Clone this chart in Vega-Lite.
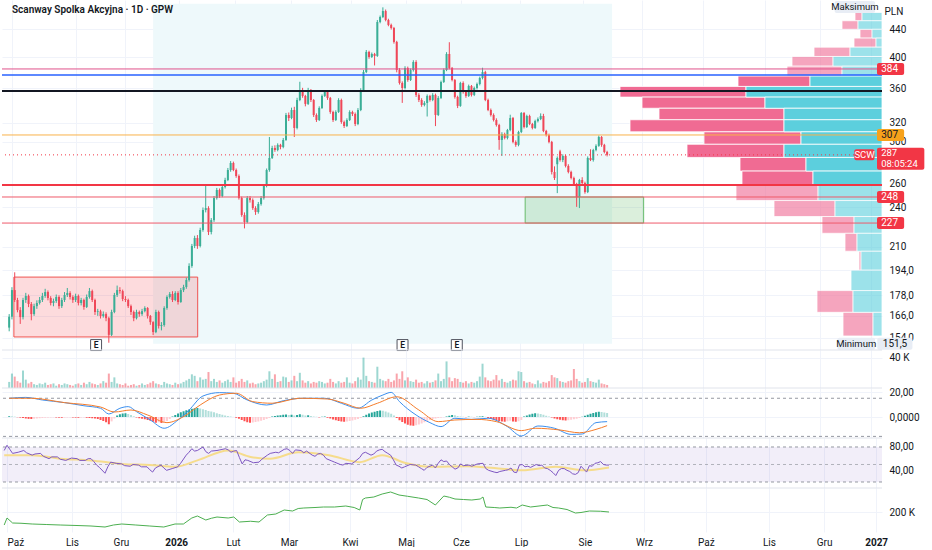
{
  "$schema": "https://vega.github.io/schema/vega-lite/v6.json",
  "background": "white",
  "padding": 0,
  "spacing": 0,
  "bounds": "flush",
  "config": {
    "view": {"stroke": null},
    "font": "Roboto",
    "axis": {"labelFont": "Roboto", "labelFontSize": 10, "labelColor": "#131722", "domain": false, "ticks": false, "gridColor": "#f0f3fa", "labelOverlap": false}
  },
  "datasets": {
    "ohlc": [
      {"i":-1,"o":159.5,"h":167,"l":157.5,"c":165.5,"v":8000,"m":0.6},
      {"i":0,"o":165.5,"h":183,"l":164,"c":181.2,"v":19000,"m":0.5},
      {"i":1,"o":181.2,"h":192.5,"l":174,"c":175.2,"v":15000,"m":0.3},
      {"i":2,"o":175.2,"h":176.5,"l":168,"c":169.3,"v":9000,"m":-0.2},
      {"i":3,"o":169.3,"h":171,"l":161.5,"c":165.3,"v":7000,"m":-0.5},
      {"i":4,"o":165.3,"h":176.5,"l":164,"c":175.2,"v":23000,"m":-0.8},
      {"i":5,"o":175.2,"h":179.5,"l":173.5,"c":177.6,"v":11000,"m":-1.2},
      {"i":6,"o":177.6,"h":178.5,"l":171,"c":172.8,"v":6000,"m":-1.5},
      {"i":7,"o":172.8,"h":174,"l":163.5,"c":167,"v":8000,"m":-1.6},
      {"i":8,"o":167,"h":173,"l":166,"c":171.6,"v":5000,"m":-1.4},
      {"i":9,"o":171.6,"h":175,"l":170,"c":173.4,"v":4000,"m":-1.2},
      {"i":10,"o":173.4,"h":177,"l":172.5,"c":175.2,"v":6000,"m":-1},
      {"i":11,"o":175.2,"h":179.5,"l":174,"c":177.6,"v":5000,"m":-0.8},
      {"i":12,"o":177.6,"h":182,"l":176.5,"c":180,"v":7000,"m":-0.6},
      {"i":13,"o":180,"h":181,"l":175,"c":176.4,"v":4000,"m":-0.5},
      {"i":14,"o":176.4,"h":177.5,"l":172,"c":173.4,"v":5000,"m":-0.4},
      {"i":15,"o":173.4,"h":176,"l":171.5,"c":174.6,"v":6000,"m":-0.3},
      {"i":16,"o":174.6,"h":178.5,"l":173.5,"c":177,"v":3000,"m":-0.4},
      {"i":17,"o":177,"h":178,"l":170,"c":171.6,"v":5000,"m":-0.5},
      {"i":18,"o":171.6,"h":176.5,"l":170.5,"c":175.2,"v":4000,"m":-0.6},
      {"i":19,"o":175.2,"h":180,"l":174,"c":178.2,"v":6000,"m":-0.5},
      {"i":20,"o":178.2,"h":182.5,"l":177,"c":179.4,"v":5000,"m":-0.4},
      {"i":21,"o":179.4,"h":180.5,"l":175.5,"c":177,"v":4000,"m":-0.3},
      {"i":22,"o":177,"h":178,"l":173.5,"c":175.2,"v":3000,"m":-0.4},
      {"i":23,"o":175.2,"h":179,"l":174,"c":177.6,"v":5000,"m":-0.5},
      {"i":24,"o":177.6,"h":178.5,"l":172,"c":173.4,"v":6000,"m":-0.6},
      {"i":25,"o":173.4,"h":176.5,"l":172,"c":175.2,"v":4000,"m":-0.5},
      {"i":26,"o":175.2,"h":176,"l":169.5,"c":171.1,"v":7000,"m":-0.4},
      {"i":27,"o":171.1,"h":178.5,"l":170.5,"c":177,"v":5000,"m":-0.6},
      {"i":28,"o":177,"h":182.5,"l":176,"c":180.6,"v":8000,"m":-0.8},
      {"i":29,"o":180.6,"h":181.5,"l":174,"c":175.2,"v":6000,"m":-1},
      {"i":30,"o":175.2,"h":176,"l":166.5,"c":168.2,"v":5000,"m":-1.2},
      {"i":31,"o":168.2,"h":170,"l":166,"c":168.6,"v":4000,"m":-1.6},
      {"i":32,"o":168.6,"h":169.5,"l":164.5,"c":165.9,"v":6000,"m":-2.4},
      {"i":33,"o":165.9,"h":168.5,"l":165,"c":167,"v":9000,"m":-3.2},
      {"i":34,"o":167,"h":168,"l":163,"c":164.7,"v":7000,"m":-4.2},
      {"i":35,"o":164.7,"h":165.5,"l":151.5,"c":155.6,"v":19000,"m":-5.8},
      {"i":36,"o":155.6,"h":169.5,"l":155,"c":168.2,"v":8000,"m":-3.5},
      {"i":37,"o":168.2,"h":179.5,"l":167.5,"c":178.2,"v":14000,"m":-1.2},
      {"i":38,"o":178.2,"h":184,"l":177,"c":181.2,"v":6000,"m":1.2},
      {"i":39,"o":181.2,"h":183,"l":179,"c":180.6,"v":5000,"m":2.2},
      {"i":40,"o":180.6,"h":181.5,"l":174.5,"c":175.8,"v":4000,"m":2.8},
      {"i":41,"o":175.8,"h":177.5,"l":174,"c":175.2,"v":6000,"m":3},
      {"i":42,"o":175.2,"h":176,"l":170.5,"c":171.6,"v":3000,"m":2.4},
      {"i":43,"o":171.6,"h":172.5,"l":166.5,"c":168.2,"v":4000,"m":1.6},
      {"i":44,"o":168.2,"h":169,"l":163,"c":164.7,"v":5000,"m":0.6},
      {"i":45,"o":164.7,"h":169.5,"l":164,"c":168.2,"v":3000,"m":-0.4},
      {"i":46,"o":168.2,"h":169,"l":165.5,"c":167,"v":4000,"m":-1},
      {"i":47,"o":167,"h":170,"l":166,"c":168.7,"v":6000,"m":-1.4},
      {"i":48,"o":168.7,"h":171.5,"l":168,"c":170.5,"v":4000,"m":-1.8},
      {"i":49,"o":170.5,"h":171,"l":164.5,"c":165.9,"v":5000,"m":-2.4},
      {"i":50,"o":165.9,"h":166.5,"l":161,"c":162.5,"v":7000,"m":-3},
      {"i":51,"o":162.5,"h":163,"l":155.5,"c":157.1,"v":9000,"m":-3.8},
      {"i":52,"o":157.1,"h":169.5,"l":156.5,"c":168.2,"v":6000,"m":-4.6},
      {"i":53,"o":168.2,"h":169,"l":159,"c":160.4,"v":5000,"m":-4.2},
      {"i":54,"o":160.4,"h":162.5,"l":158,"c":160.9,"v":4000,"m":-4.8},
      {"i":55,"o":160.9,"h":171.5,"l":160,"c":170.5,"v":8000,"m":-4.4},
      {"i":56,"o":170.5,"h":178,"l":169.5,"c":177,"v":6000,"m":-3.2},
      {"i":57,"o":177,"h":180,"l":176,"c":178.8,"v":5000,"m":-1.6},
      {"i":58,"o":178.8,"h":180.5,"l":174,"c":175.2,"v":4000,"m":0.4},
      {"i":59,"o":175.2,"h":180.5,"l":174.5,"c":179.4,"v":7000,"m":1.6},
      {"i":60,"o":179.4,"h":180.5,"l":172.5,"c":174,"v":5000,"m":2.8},
      {"i":61,"o":174,"h":182.5,"l":173.5,"c":181.2,"v":6000,"m":3.8},
      {"i":62,"o":181.2,"h":184.5,"l":180,"c":183.1,"v":8000,"m":4.6},
      {"i":63,"o":183.1,"h":189,"l":182,"c":187.5,"v":10000,"m":5.4},
      {"i":64,"o":187.5,"h":198.5,"l":186.5,"c":196.7,"v":12000,"m":6},
      {"i":65,"o":196.7,"h":212,"l":195.5,"c":210.5,"v":18000,"m":6.6},
      {"i":66,"o":210.5,"h":218,"l":209,"c":216.3,"v":16000,"m":7},
      {"i":67,"o":216.3,"h":218.5,"l":208.5,"c":210.5,"v":9000,"m":7.2},
      {"i":68,"o":210.5,"h":224,"l":209.5,"c":222.3,"v":14000,"m":6.8},
      {"i":69,"o":222.3,"h":240,"l":221,"c":237.9,"v":11000,"m":6.2},
      {"i":70,"o":237.9,"h":259,"l":236,"c":239.5,"v":12000,"m":5.6},
      {"i":71,"o":239.5,"h":241,"l":218.5,"c":220.8,"v":21000,"m":4.8},
      {"i":72,"o":220.8,"h":231.5,"l":219,"c":229.9,"v":9000,"m":4.4},
      {"i":73,"o":229.9,"h":249.5,"l":228.5,"c":247.8,"v":12000,"m":3.8},
      {"i":74,"o":247.8,"h":256.5,"l":246.5,"c":254.7,"v":8000,"m":3},
      {"i":75,"o":254.7,"h":256,"l":248,"c":249.5,"v":10000,"m":2.4},
      {"i":76,"o":249.5,"h":259,"l":248.5,"c":257.3,"v":7000,"m":1.8},
      {"i":77,"o":257.3,"h":265.5,"l":256,"c":263.5,"v":9000,"m":1.2},
      {"i":78,"o":263.5,"h":274.5,"l":262.5,"c":272.6,"v":11000,"m":0.8},
      {"i":79,"o":272.6,"h":281,"l":271,"c":279.2,"v":8000,"m":0.4},
      {"i":80,"o":279.2,"h":280.5,"l":271.5,"c":272.6,"v":14000,"m":0.1},
      {"i":81,"o":272.6,"h":274,"l":265.5,"c":267.1,"v":7000,"m":-0.6},
      {"i":82,"o":267.1,"h":268.5,"l":246.5,"c":247.8,"v":9000,"m":-1.4},
      {"i":83,"o":247.8,"h":249,"l":232.5,"c":233.9,"v":12000,"m":-2.4},
      {"i":84,"o":233.9,"h":236,"l":223.5,"c":228.4,"v":8000,"m":-3.4},
      {"i":85,"o":228.4,"h":249.5,"l":227.5,"c":247.8,"v":10000,"m":-4.2},
      {"i":86,"o":247.8,"h":249.5,"l":244,"c":246.1,"v":6000,"m":-4.6},
      {"i":87,"o":246.1,"h":247.5,"l":238,"c":239.5,"v":7000,"m":-4.4},
      {"i":88,"o":239.5,"h":241,"l":234,"c":236.3,"v":5000,"m":-4},
      {"i":89,"o":236.3,"h":244.5,"l":235,"c":242.8,"v":6000,"m":-3.6},
      {"i":90,"o":242.8,"h":249.5,"l":241.5,"c":247.8,"v":7000,"m":-3},
      {"i":91,"o":247.8,"h":259.5,"l":246.5,"c":258.2,"v":9000,"m":-2.4},
      {"i":92,"o":258.2,"h":274,"l":257,"c":272.6,"v":11000,"m":-1.6},
      {"i":93,"o":272.6,"h":305,"l":271,"c":284,"v":22000,"m":-0.8},
      {"i":94,"o":284,"h":296,"l":283,"c":293.8,"v":12000,"m":0.4},
      {"i":95,"o":293.8,"h":296.5,"l":290,"c":291.8,"v":18000,"m":0.8},
      {"i":96,"o":291.8,"h":298.5,"l":290.5,"c":296.9,"v":8000,"m":1.2},
      {"i":97,"o":296.9,"h":298,"l":292.5,"c":294.8,"v":9000,"m":1.4},
      {"i":98,"o":294.8,"h":304,"l":293.5,"c":301.9,"v":15000,"m":1.8},
      {"i":99,"o":301.9,"h":331,"l":301,"c":328.7,"v":14000,"m":2},
      {"i":100,"o":328.7,"h":331.5,"l":322,"c":325.3,"v":8000,"m":1.6},
      {"i":101,"o":325.3,"h":337,"l":324,"c":334.3,"v":10000,"m":1.8},
      {"i":102,"o":334.3,"h":338,"l":305,"c":314.5,"v":16000,"m":1.2},
      {"i":103,"o":314.5,"h":348.5,"l":313,"c":345.9,"v":9000,"m":1.6},
      {"i":104,"o":345.9,"h":368,"l":344.5,"c":357.8,"v":20000,"m":2.2},
      {"i":105,"o":357.8,"h":360.5,"l":348.5,"c":350.7,"v":10000,"m":1.8},
      {"i":106,"o":350.7,"h":352,"l":338.5,"c":341.3,"v":7000,"m":1.2},
      {"i":107,"o":341.3,"h":360.5,"l":340,"c":357.8,"v":9000,"m":1.4},
      {"i":108,"o":357.8,"h":359,"l":343.5,"c":345.9,"v":6000,"m":0.8},
      {"i":109,"o":345.9,"h":347,"l":326.5,"c":328.7,"v":8000,"m":0.4},
      {"i":110,"o":328.7,"h":330.5,"l":321,"c":323.1,"v":7000,"m":0.2},
      {"i":111,"o":323.1,"h":338.5,"l":322,"c":336.6,"v":9000,"m":-0.3},
      {"i":112,"o":336.6,"h":352.5,"l":335.5,"c":350.7,"v":8000,"m":0.2},
      {"i":113,"o":350.7,"h":357.5,"l":349.5,"c":355.4,"v":6000,"m":0.4},
      {"i":114,"o":355.4,"h":357,"l":346,"c":348.3,"v":7000,"m":-0.6},
      {"i":115,"o":348.3,"h":349.5,"l":330,"c":332.1,"v":12000,"m":-1.2},
      {"i":116,"o":332.1,"h":333.5,"l":321,"c":323.1,"v":8000,"m":-2},
      {"i":117,"o":323.1,"h":334,"l":322,"c":332.1,"v":6000,"m":-2.6},
      {"i":118,"o":332.1,"h":348,"l":331,"c":345.9,"v":9000,"m":-3.2},
      {"i":119,"o":345.9,"h":347.5,"l":319,"c":320.9,"v":7000,"m":-3.6},
      {"i":120,"o":320.9,"h":322.5,"l":314.5,"c":316.6,"v":8000,"m":-3.8},
      {"i":121,"o":316.6,"h":325,"l":315.5,"c":323.1,"v":14000,"m":-3.6},
      {"i":122,"o":323.1,"h":334,"l":322,"c":332.1,"v":7000,"m":-3.2},
      {"i":123,"o":332.1,"h":333.5,"l":327.5,"c":329.8,"v":6000,"m":-2.8},
      {"i":124,"o":329.8,"h":331.5,"l":316.5,"c":318.8,"v":9000,"m":-2.2},
      {"i":125,"o":318.8,"h":336.5,"l":317.5,"c":334.3,"v":14000,"m":-1.6},
      {"i":126,"o":334.3,"h":360,"l":333,"c":357.8,"v":11000,"m":-0.8},
      {"i":127,"o":357.8,"h":383,"l":356.5,"c":380.4,"v":40000,"m":0.6},
      {"i":128,"o":380.4,"h":410,"l":379,"c":407.3,"v":16000,"m":1.8},
      {"i":129,"o":407.3,"h":409,"l":398,"c":400.4,"v":9000,"m":2.8},
      {"i":130,"o":400.4,"h":406.5,"l":399,"c":404.5,"v":8000,"m":3.6},
      {"i":131,"o":404.5,"h":406,"l":389,"c":401.8,"v":7000,"m":4.2},
      {"i":132,"o":401.8,"h":454,"l":400.5,"c":451,"v":28000,"m":4.8},
      {"i":133,"o":451,"h":461,"l":449,"c":458.7,"v":12000,"m":5.2},
      {"i":134,"o":458.7,"h":474,"l":457,"c":468.1,"v":10000,"m":5},
      {"i":135,"o":468.1,"h":470.5,"l":452,"c":454,"v":9000,"m":4.4},
      {"i":136,"o":454,"h":456,"l":444.5,"c":446.5,"v":12000,"m":3.6},
      {"i":137,"o":446.5,"h":448.5,"l":439.5,"c":441.9,"v":8000,"m":2.6},
      {"i":138,"o":441.9,"h":443.5,"l":419,"c":421.4,"v":10000,"m":1.2},
      {"i":139,"o":421.4,"h":423,"l":380,"c":383,"v":19000,"m":-0.8},
      {"i":140,"o":383,"h":385.5,"l":364.5,"c":366.5,"v":12000,"m":-2.6},
      {"i":141,"o":366.5,"h":368.5,"l":342.5,"c":360.3,"v":22000,"m":-4},
      {"i":142,"o":360.3,"h":388,"l":358.5,"c":385.7,"v":10000,"m":-5.2},
      {"i":143,"o":385.7,"h":387.5,"l":368,"c":370.2,"v":14000,"m":-6.2},
      {"i":144,"o":370.2,"h":385,"l":369,"c":383,"v":9000,"m":-6.8},
      {"i":145,"o":383,"h":396,"l":381,"c":393.6,"v":8000,"m":-7},
      {"i":146,"o":393.6,"h":396,"l":349.5,"c":351.9,"v":11000,"m":-6.6},
      {"i":147,"o":351.9,"h":354,"l":343.5,"c":345.9,"v":7000,"m":-6},
      {"i":148,"o":345.9,"h":348,"l":338,"c":340.1,"v":8000,"m":-5.2},
      {"i":149,"o":340.1,"h":344.5,"l":338.5,"c":342.4,"v":6000,"m":-4.2},
      {"i":150,"o":342.4,"h":352.5,"l":327,"c":350.7,"v":9000,"m":-3.2},
      {"i":151,"o":350.7,"h":352,"l":344,"c":345.9,"v":7000,"m":-2.4},
      {"i":152,"o":345.9,"h":354,"l":344.5,"c":351.9,"v":8000,"m":-1.6},
      {"i":153,"o":351.9,"h":353.5,"l":316.5,"c":328.7,"v":10000,"m":-1.2},
      {"i":154,"o":328.7,"h":350.5,"l":327.5,"c":348.3,"v":19000,"m":-0.8},
      {"i":155,"o":348.3,"h":369.5,"l":347,"c":367.7,"v":9000,"m":-0.5},
      {"i":156,"o":367.7,"h":385,"l":366.5,"c":383,"v":12000,"m":-0.2},
      {"i":157,"o":383,"h":407,"l":381.5,"c":404.5,"v":35000,"m":0.4},
      {"i":158,"o":404.5,"h":421,"l":384,"c":385.7,"v":14000,"m":1},
      {"i":159,"o":385.7,"h":387,"l":368.5,"c":370.2,"v":9000,"m":1.6},
      {"i":160,"o":370.2,"h":371.5,"l":347.5,"c":349.5,"v":13000,"m":1.4},
      {"i":161,"o":349.5,"h":351,"l":336.5,"c":339,"v":12000,"m":0.8},
      {"i":162,"o":339,"h":368,"l":338,"c":366.5,"v":8000,"m":0.4},
      {"i":163,"o":366.5,"h":368.5,"l":353.5,"c":355.4,"v":7000,"m":0.2},
      {"i":164,"o":355.4,"h":357,"l":348.5,"c":350.7,"v":9000,"m":-0.2},
      {"i":165,"o":350.7,"h":364.5,"l":349.5,"c":362.8,"v":6000,"m":0.3},
      {"i":166,"o":362.8,"h":364,"l":350,"c":351.9,"v":8000,"m":0.2},
      {"i":167,"o":351.9,"h":362,"l":350.5,"c":360.3,"v":7000,"m":-0.1},
      {"i":168,"o":360.3,"h":367,"l":358.5,"c":365.2,"v":9000,"m":0.2},
      {"i":169,"o":365.2,"h":374.5,"l":363.5,"c":372.7,"v":15000,"m":0.4},
      {"i":170,"o":372.7,"h":386,"l":371,"c":380.4,"v":32000,"m":0.6},
      {"i":171,"o":380.4,"h":382,"l":344.5,"c":345.9,"v":14000,"m":0.2},
      {"i":172,"o":345.9,"h":347.5,"l":333,"c":334.3,"v":10000,"m":-0.8},
      {"i":173,"o":334.3,"h":336,"l":327,"c":328.7,"v":9000,"m":-1.6},
      {"i":174,"o":328.7,"h":330.5,"l":321.5,"c":323.1,"v":11000,"m":-2.2},
      {"i":175,"o":323.1,"h":325,"l":316,"c":317.7,"v":17000,"m":-2.8},
      {"i":176,"o":317.7,"h":319,"l":292,"c":301.9,"v":10000,"m":-3.2},
      {"i":177,"o":301.9,"h":310,"l":286,"c":308.1,"v":12000,"m":-3.6},
      {"i":178,"o":308.1,"h":309.5,"l":302.5,"c":304,"v":8000,"m":-3.8},
      {"i":179,"o":304,"h":313.5,"l":302.5,"c":312.3,"v":7000,"m":-3.4},
      {"i":180,"o":312.3,"h":329,"l":311,"c":325.3,"v":9000,"m":-3},
      {"i":181,"o":325.3,"h":326.5,"l":298.5,"c":299.9,"v":11000,"m":-3.6},
      {"i":182,"o":299.9,"h":301.5,"l":295,"c":296.9,"v":10000,"m":-3.8},
      {"i":183,"o":296.9,"h":311.5,"l":295.5,"c":310.2,"v":22000,"m":-3.4},
      {"i":184,"o":310.2,"h":332,"l":309,"c":330.9,"v":21000,"m":-2.4},
      {"i":185,"o":330.9,"h":332,"l":314,"c":315.5,"v":9000,"m":0.4},
      {"i":186,"o":315.5,"h":329,"l":314.5,"c":327.6,"v":7000,"m":1.2},
      {"i":187,"o":327.6,"h":329,"l":317.5,"c":318.8,"v":8000,"m":2},
      {"i":188,"o":318.8,"h":320,"l":313,"c":314.5,"v":6000,"m":2.6},
      {"i":189,"o":314.5,"h":323.5,"l":313.5,"c":322,"v":5000,"m":3},
      {"i":190,"o":322,"h":326,"l":320.5,"c":324.2,"v":10000,"m":2.8},
      {"i":191,"o":324.2,"h":330.5,"l":323,"c":327.6,"v":6000,"m":2.4},
      {"i":192,"o":327.6,"h":330,"l":310,"c":311.3,"v":8000,"m":1.8},
      {"i":193,"o":311.3,"h":312.5,"l":305.5,"c":307.1,"v":7000,"m":1},
      {"i":194,"o":307.1,"h":308.5,"l":298.5,"c":299.9,"v":9000,"m":0.4},
      {"i":195,"o":299.9,"h":301,"l":268.5,"c":270.8,"v":17000,"m":-0.4},
      {"i":196,"o":270.8,"h":276,"l":263.5,"c":265.3,"v":14000,"m":-1.2},
      {"i":197,"o":278,"h":285.5,"l":252,"c":284,"v":13000,"m":-1.8},
      {"i":198,"o":290.5,"h":292,"l":280.5,"c":282,"v":9000,"m":-2.2},
      {"i":199,"o":282,"h":287.5,"l":280,"c":285.9,"v":8000,"m":-2.6},
      {"i":200,"o":285.9,"h":287,"l":275,"c":276.4,"v":7000,"m":-2.8},
      {"i":201,"o":276.4,"h":278,"l":269.5,"c":270.8,"v":9000,"m":-2.6},
      {"i":202,"o":270.8,"h":272,"l":264,"c":265.3,"v":10000,"m":-2.2},
      {"i":203,"o":265.3,"h":266.5,"l":258.5,"c":259.9,"v":25000,"m":-1.8},
      {"i":204,"o":259.9,"h":261,"l":240.5,"c":248.7,"v":12000,"m":-1.4},
      {"i":205,"o":248.7,"h":264.5,"l":239.5,"c":263.5,"v":9000,"m":-0.8},
      {"i":206,"o":263.5,"h":266,"l":259.5,"c":260.8,"v":7000,"m":0.2},
      {"i":207,"o":260.8,"h":262,"l":251.5,"c":252.9,"v":8000,"m":1},
      {"i":208,"o":252.9,"h":285.5,"l":252,"c":284,"v":13000,"m":1.8},
      {"i":209,"o":284,"h":292.5,"l":281,"c":282,"v":9000,"m":2.6},
      {"i":210,"o":282,"h":293,"l":280.5,"c":291.8,"v":8000,"m":3.2},
      {"i":211,"o":291.8,"h":297.5,"l":290.5,"c":295.9,"v":7000,"m":3.8},
      {"i":212,"o":295.9,"h":306.5,"l":295,"c":305,"v":11000,"m":4.2},
      {"i":213,"o":305,"h":306,"l":295,"c":296.9,"v":6000,"m":4},
      {"i":214,"o":296.9,"h":298,"l":288.5,"c":289.8,"v":5000,"m":3.6},
      {"i":215,"o":289.8,"h":291,"l":285.5,"c":287,"v":4000,"m":3.2}
    ],
    "vp": [
      {"lo":452.9,"hi":465.8,"tot":27,"up":20},
      {"lo":439.9,"hi":452.9,"tot":40,"up":24},
      {"lo":427.0,"hi":439.9,"tot":22,"up":10},
      {"lo":414.0,"hi":427.0,"tot":28,"up":6},
      {"lo":401.1,"hi":414.0,"tot":68,"up":32},
      {"lo":388.1,"hi":401.1,"tot":90,"up":49},
      {"lo":375.2,"hi":388.1,"tot":95,"up":40},
      {"lo":362.2,"hi":375.2,"tot":144,"up":72},
      {"lo":349.3,"hi":362.2,"tot":262,"up":136},
      {"lo":336.3,"hi":349.3,"tot":240,"up":117},
      {"lo":323.4,"hi":336.3,"tot":223,"up":98},
      {"lo":310.4,"hi":323.4,"tot":252,"up":98},
      {"lo":297.5,"hi":310.4,"tot":178,"up":81},
      {"lo":284.5,"hi":297.5,"tot":195,"up":98},
      {"lo":271.6,"hi":284.5,"tot":142,"up":76},
      {"lo":258.6,"hi":271.6,"tot":140,"up":69},
      {"lo":245.7,"hi":258.6,"tot":146,"up":64},
      {"lo":232.7,"hi":245.7,"tot":108,"up":47},
      {"lo":219.8,"hi":232.7,"tot":60,"up":28},
      {"lo":206.8,"hi":219.8,"tot":37,"up":25},
      {"lo":193.9,"hi":206.8,"tot":23,"up":21},
      {"lo":180.9,"hi":193.9,"tot":31,"up":31},
      {"lo":168.0,"hi":180.9,"tot":65,"up":29},
      {"lo":155.0,"hi":168.0,"tot":39,"up":9}
    ],
    "tags": [
      {"p":384.4,"t":"384"},
      {"p":307.1,"t":"307"},
      {"p":248.7,"t":"248"},
      {"p":227.6,"t":"227"}
    ],
    "earn": [{"i":30.4},{"i":141.1},{"i":160.7}],
    "macd": [
      {"i":-1,"s":"macd","v":15},{"i":5,"s":"macd","v":15.7},{"i":11,"s":"macd","v":13.6},{"i":19,"s":"macd","v":11.5},
      {"i":26,"s":"macd","v":9},{"i":32,"s":"macd","v":7},{"i":35,"s":"macd","v":2.4},{"i":39,"s":"macd","v":7},
      {"i":42,"s":"macd","v":8.3},{"i":45,"s":"macd","v":4.3},{"i":50,"s":"macd","v":-2.4},{"i":55,"s":"macd","v":-9},
      {"i":60,"s":"macd","v":-2.4},{"i":64,"s":"macd","v":5.6},{"i":69,"s":"macd","v":16.8},{"i":75,"s":"macd","v":19.5},
      {"i":80,"s":"macd","v":19},{"i":85,"s":"macd","v":13.6},{"i":92,"s":"macd","v":9.6},{"i":98,"s":"macd","v":13},
      {"i":105,"s":"macd","v":15},{"i":113,"s":"macd","v":15},{"i":119,"s":"macd","v":11},{"i":125,"s":"macd","v":7},
      {"i":130,"s":"macd","v":13.6},{"i":134,"s":"macd","v":17.6},{"i":137,"s":"macd","v":19.7},{"i":140,"s":"macd","v":12.3},
      {"i":146,"s":"macd","v":1.6},{"i":151,"s":"macd","v":-4.5},{"i":155,"s":"macd","v":-7.7},{"i":160,"s":"macd","v":-1},
      {"i":166,"s":"macd","v":-1.9},{"i":172,"s":"macd","v":-1},{"i":179,"s":"macd","v":-7.7},{"i":184,"s":"macd","v":-15.2},
      {"i":190,"s":"macd","v":-7.2},{"i":196,"s":"macd","v":-9},{"i":202,"s":"macd","v":-13.9},{"i":206,"s":"macd","v":-13.6},
      {"i":211,"s":"macd","v":-4.5},{"i":215,"s":"macd","v":-3.7},
      {"i":-1,"s":"sig","v":15},{"i":7,"s":"sig","v":15},{"i":19,"s":"sig","v":11.5},{"i":32,"s":"sig","v":8},
      {"i":37,"s":"sig","v":4},{"i":43,"s":"sig","v":5.6},{"i":49,"s":"sig","v":1.6},{"i":56,"s":"sig","v":-4.5},
      {"i":62,"s":"sig","v":0.3},{"i":68,"s":"sig","v":9.6},{"i":75,"s":"sig","v":17.6},{"i":81,"s":"sig","v":19},
      {"i":87,"s":"sig","v":12.3},{"i":94,"s":"sig","v":11},{"i":104,"s":"sig","v":15},{"i":114,"s":"sig","v":14.4},
      {"i":120,"s":"sig","v":11},{"i":126,"s":"sig","v":7},{"i":132,"s":"sig","v":11},{"i":139,"s":"sig","v":16.2},
      {"i":147,"s":"sig","v":5.6},{"i":154,"s":"sig","v":-3.7},{"i":160,"s":"sig","v":-2.4},{"i":168,"s":"sig","v":-1.9},
      {"i":175,"s":"sig","v":-3.7},{"i":184,"s":"sig","v":-10.9},{"i":189,"s":"sig","v":-9},{"i":198,"s":"sig","v":-10.4},
      {"i":205,"s":"sig","v":-12.6},{"i":211,"s":"sig","v":-9.9},{"i":215,"s":"sig","v":-6.9}
    ],
    "rsi": [
      {"i":-1,"s":"rsi","v":74},{"i":0,"s":"rsi","v":83},{"i":1,"s":"rsi","v":76},{"i":2,"s":"rsi","v":69},{"i":4,"s":"rsi","v":71},
      {"i":6,"s":"rsi","v":74},{"i":7,"s":"rsi","v":70},{"i":9,"s":"rsi","v":66},{"i":10,"s":"rsi","v":68},{"i":12,"s":"rsi","v":69},
      {"i":13,"s":"rsi","v":64},{"i":15,"s":"rsi","v":60},{"i":16,"s":"rsi","v":63},{"i":18,"s":"rsi","v":63},{"i":19,"s":"rsi","v":59},
      {"i":21,"s":"rsi","v":57},{"i":23,"s":"rsi","v":61},{"i":25,"s":"rsi","v":60},{"i":26,"s":"rsi","v":57},{"i":28,"s":"rsi","v":57},
      {"i":29,"s":"rsi","v":60},{"i":30,"s":"rsi","v":60},{"i":31,"s":"rsi","v":55},{"i":32,"s":"rsi","v":49},{"i":33,"s":"rsi","v":45},
      {"i":35,"s":"rsi","v":35},{"i":36,"s":"rsi","v":46},{"i":37,"s":"rsi","v":54},{"i":39,"s":"rsi","v":52},{"i":41,"s":"rsi","v":51},
      {"i":42,"s":"rsi","v":48},{"i":44,"s":"rsi","v":47},{"i":45,"s":"rsi","v":50},{"i":47,"s":"rsi","v":49},{"i":48,"s":"rsi","v":46},
      {"i":50,"s":"rsi","v":46},{"i":51,"s":"rsi","v":41},{"i":52,"s":"rsi","v":37},{"i":53,"s":"rsi","v":44},{"i":55,"s":"rsi","v":49},
      {"i":56,"s":"rsi","v":44},{"i":57,"s":"rsi","v":40},{"i":59,"s":"rsi","v":43},{"i":61,"s":"rsi","v":46},{"i":62,"s":"rsi","v":52},
      {"i":64,"s":"rsi","v":66},{"i":65,"s":"rsi","v":71},{"i":66,"s":"rsi","v":77},{"i":67,"s":"rsi","v":73},{"i":68,"s":"rsi","v":74},
      {"i":70,"s":"rsi","v":80},{"i":71,"s":"rsi","v":72},{"i":72,"s":"rsi","v":69},{"i":73,"s":"rsi","v":73},{"i":75,"s":"rsi","v":74},
      {"i":76,"s":"rsi","v":75},{"i":78,"s":"rsi","v":77},{"i":79,"s":"rsi","v":75},{"i":80,"s":"rsi","v":71},{"i":81,"s":"rsi","v":73},
      {"i":82,"s":"rsi","v":74},{"i":83,"s":"rsi","v":62},{"i":84,"s":"rsi","v":51},{"i":85,"s":"rsi","v":58},{"i":86,"s":"rsi","v":57},
      {"i":88,"s":"rsi","v":53},{"i":90,"s":"rsi","v":54},{"i":91,"s":"rsi","v":59},{"i":93,"s":"rsi","v":66},{"i":94,"s":"rsi","v":69},
      {"i":96,"s":"rsi","v":71},{"i":97,"s":"rsi","v":70},{"i":99,"s":"rsi","v":76},{"i":100,"s":"rsi","v":77},{"i":101,"s":"rsi","v":74},
      {"i":102,"s":"rsi","v":69},{"i":103,"s":"rsi","v":75},{"i":105,"s":"rsi","v":74},{"i":106,"s":"rsi","v":70},{"i":107,"s":"rsi","v":73},
      {"i":109,"s":"rsi","v":66},{"i":110,"s":"rsi","v":64},{"i":111,"s":"rsi","v":68},{"i":112,"s":"rsi","v":69},{"i":113,"s":"rsi","v":66},
      {"i":114,"s":"rsi","v":60},{"i":116,"s":"rsi","v":56},{"i":117,"s":"rsi","v":54},{"i":119,"s":"rsi","v":50},{"i":120,"s":"rsi","v":49},
      {"i":121,"s":"rsi","v":52},{"i":123,"s":"rsi","v":51},{"i":124,"s":"rsi","v":54},{"i":126,"s":"rsi","v":62},{"i":127,"s":"rsi","v":69},
      {"i":128,"s":"rsi","v":71},{"i":130,"s":"rsi","v":66},{"i":131,"s":"rsi","v":68},{"i":132,"s":"rsi","v":73},{"i":133,"s":"rsi","v":75},
      {"i":134,"s":"rsi","v":76},{"i":135,"s":"rsi","v":72},{"i":136,"s":"rsi","v":69},{"i":137,"s":"rsi","v":66},{"i":138,"s":"rsi","v":58},
      {"i":139,"s":"rsi","v":49},{"i":140,"s":"rsi","v":47},{"i":141,"s":"rsi","v":44},{"i":142,"s":"rsi","v":46},{"i":144,"s":"rsi","v":50},
      {"i":146,"s":"rsi","v":49},{"i":147,"s":"rsi","v":46},{"i":148,"s":"rsi","v":43},{"i":149,"s":"rsi","v":40},{"i":150,"s":"rsi","v":45},
      {"i":152,"s":"rsi","v":49},{"i":153,"s":"rsi","v":44},{"i":154,"s":"rsi","v":52},{"i":155,"s":"rsi","v":58},{"i":156,"s":"rsi","v":55},
      {"i":157,"s":"rsi","v":56},{"i":158,"s":"rsi","v":50},{"i":159,"s":"rsi","v":46},{"i":160,"s":"rsi","v":42},{"i":161,"s":"rsi","v":44},
      {"i":162,"s":"rsi","v":51},{"i":163,"s":"rsi","v":48},{"i":165,"s":"rsi","v":49},{"i":166,"s":"rsi","v":47},{"i":168,"s":"rsi","v":51},
      {"i":170,"s":"rsi","v":52},{"i":171,"s":"rsi","v":43},{"i":172,"s":"rsi","v":40},{"i":174,"s":"rsi","v":37},{"i":175,"s":"rsi","v":36},
      {"i":176,"s":"rsi","v":38},{"i":178,"s":"rsi","v":40},{"i":179,"s":"rsi","v":41},{"i":180,"s":"rsi","v":44},{"i":181,"s":"rsi","v":37},
      {"i":182,"s":"rsi","v":36},{"i":183,"s":"rsi","v":49},{"i":184,"s":"rsi","v":50},{"i":185,"s":"rsi","v":46},{"i":186,"s":"rsi","v":47},
      {"i":187,"s":"rsi","v":45},{"i":189,"s":"rsi","v":50},{"i":190,"s":"rsi","v":48},{"i":191,"s":"rsi","v":49},{"i":192,"s":"rsi","v":44},
      {"i":193,"s":"rsi","v":43},{"i":194,"s":"rsi","v":40},{"i":195,"s":"rsi","v":36},{"i":196,"s":"rsi","v":31},{"i":197,"s":"rsi","v":40},
      {"i":198,"s":"rsi","v":43},{"i":199,"s":"rsi","v":43},{"i":200,"s":"rsi","v":40},{"i":201,"s":"rsi","v":38},{"i":202,"s":"rsi","v":34},
      {"i":203,"s":"rsi","v":33},{"i":204,"s":"rsi","v":36},{"i":205,"s":"rsi","v":47},{"i":206,"s":"rsi","v":42},{"i":207,"s":"rsi","v":37},
      {"i":208,"s":"rsi","v":48},{"i":209,"s":"rsi","v":47},{"i":210,"s":"rsi","v":52},{"i":211,"s":"rsi","v":53},{"i":212,"s":"rsi","v":55},
      {"i":213,"s":"rsi","v":50},{"i":214,"s":"rsi","v":49},{"i":215,"s":"rsi","v":49},
      {"i":-1,"s":"ma","v":66},{"i":9,"s":"ma","v":66},{"i":19,"s":"ma","v":60},{"i":30,"s":"ma","v":57},{"i":41,"s":"ma","v":51},
      {"i":51,"s":"ma","v":49},{"i":60,"s":"ma","v":46},{"i":68,"s":"ma","v":57},{"i":79,"s":"ma","v":74},{"i":87,"s":"ma","v":63},
      {"i":94,"s":"ma","v":60},{"i":104,"s":"ma","v":71},{"i":115,"s":"ma","v":66},{"i":126,"s":"ma","v":54},{"i":134,"s":"ma","v":66},
      {"i":142,"s":"ma","v":53},{"i":151,"s":"ma","v":46},{"i":164,"s":"ma","v":47},{"i":174,"s":"ma","v":44},{"i":184,"s":"ma","v":40},
      {"i":196,"s":"ma","v":46},{"i":206,"s":"ma","v":40},{"i":215,"s":"ma","v":45}
    ],
    "obv": [
      {"i":-1,"v":96000},{"i":0,"v":152000},{"i":2,"v":112000},{"i":5,"v":110000},{"i":9,"v":104000},{"i":14,"v":100000},
      {"i":19,"v":96000},{"i":25,"v":92000},{"i":30,"v":88000},{"i":35,"v":80000},{"i":38,"v":96000},{"i":41,"v":104000},
      {"i":46,"v":96000},{"i":51,"v":88000},{"i":56,"v":80000},{"i":60,"v":104000},{"i":63,"v":104000},{"i":66,"v":152000},
      {"i":68,"v":168000},{"i":71,"v":136000},{"i":73,"v":150000},{"i":75,"v":160000},{"i":79,"v":152000},{"i":81,"v":160000},
      {"i":83,"v":120000},{"i":87,"v":126000},{"i":90,"v":120000},{"i":93,"v":176000},{"i":96,"v":184000},{"i":99,"v":216000},
      {"i":102,"v":208000},{"i":104,"v":228000},{"i":106,"v":232000},{"i":110,"v":236000},{"i":113,"v":240000},{"i":117,"v":240000},
      {"i":121,"v":248000},{"i":124,"v":236000},{"i":126,"v":216000},{"i":127,"v":300000},{"i":128,"v":312000},{"i":131,"v":320000},
      {"i":134,"v":344000},{"i":137,"v":360000},{"i":140,"v":336000},{"i":143,"v":326000},{"i":147,"v":312000},{"i":150,"v":300000},
      {"i":153,"v":256000},{"i":154,"v":280000},{"i":156,"v":328000},{"i":158,"v":318000},{"i":160,"v":304000},{"i":163,"v":300000},
      {"i":166,"v":296000},{"i":169,"v":304000},{"i":170,"v":320000},{"i":171,"v":240000},{"i":174,"v":236000},{"i":176,"v":232000},
      {"i":180,"v":238000},{"i":182,"v":232000},{"i":184,"v":256000},{"i":187,"v":240000},{"i":190,"v":248000},{"i":193,"v":256000},
      {"i":195,"v":236000},{"i":197,"v":232000},{"i":200,"v":220000},{"i":203,"v":192000},{"i":205,"v":196000},{"i":208,"v":208000},
      {"i":212,"v":206000},{"i":215,"v":200000}
    ]
  },
  "vconcat": [
    {
      "width": 880,
      "height": 350,
      "resolve": {"scale": {"x": "independent"}},
      "layer": [
        {
          "data": {"name": "vp"},
          "layer": [
            {
              "mark": {"type": "rect", "color": "#f06b93", "stroke": "white", "strokeWidth": 0.8},
              "encoding": {
                "x": {"field": "tot", "type": "quantitative", "scale": {"domain": [0, 880], "reverse": true, "nice": false, "zero": false}, "axis": null},
                "x2": {"field": "up"},
                "y": {"field": "lo", "type": "quantitative", "scale": {"type": "log", "domain": [147.8, 486], "nice": false}, "title": null},
                "y2": {"field": "hi"},
                "opacity": {"condition": {"test": "datum.lo > 255 && datum.lo < 370", "value": 1}, "value": 0.6}
              }
            },
            {
              "mark": {"type": "rect", "color": "#5ccfdd", "stroke": "white", "strokeWidth": 0.8},
              "encoding": {
                "x": {"field": "up", "type": "quantitative", "scale": {"domain": [0, 880], "reverse": true, "nice": false, "zero": false}, "axis": null},
                "x2": {"datum": 0},
                "y": {"field": "lo", "type": "quantitative", "scale": {"type": "log", "domain": [147.8, 486], "nice": false}, "title": null},
                "y2": {"field": "hi"},
                "opacity": {"condition": {"test": "datum.lo > 255 && datum.lo < 370", "value": 1}, "value": 0.6}
              }
            }
          ]
        },
        {
          "data": {"values": [{}]},
          "layer": [
            {
              "mark": {"type": "rect", "color": "#eef9fb"},
              "encoding": {
                "x": {"datum": 51, "type": "quantitative", "scale": {"domain": [-1.786, 312.5], "nice": false, "zero": false},
                  "axis": {"grid": true, "labels": false, "values": [0, 23.2, 40.7, 60.4, 80.7, 100.7, 122.5, 142.5, 162.1, 183.6, 206.4, 227.5, 249.6, 272.1, 291.8, 310.4], "title": null}},
                "x2": {"datum": 216.8},
                "y": {"datum": 480, "type": "quantitative", "scale": {"type": "log", "domain": [147.8, 486], "nice": false},
                  "axis": {"orient": "right", "values": [440, 400, 360, 320, 300, 260, 240, 210, 194, 178, 166, 154], "labelExpr": "datum.value < 200 ? replace(format(datum.value, '.1f'), '.', ',') : format(datum.value, 'd')", "grid": true, "labelPadding": 7, "title": null}},
                "y2": {"datum": 151}
              }
            },
            {
              "mark": {"type": "rect", "fill": "#f23645", "fillOpacity": 0.18, "stroke": "#ef5350", "strokeWidth": 1},
              "encoding": {
                "x": {"datum": 0.7, "type": "quantitative", "title": null},
                "x2": {"datum": 67.1},
                "y": {"datum": 189.4, "type": "quantitative", "title": null},
                "y2": {"datum": 154.5}
              }
            },
            {
              "mark": {"type": "rect", "fill": "#4caf50", "fillOpacity": 0.2, "stroke": "#66bb6a", "strokeWidth": 1},
              "encoding": {
                "x": {"datum": 185.4, "type": "quantitative", "title": null},
                "x2": {"datum": 228.2},
                "y": {"datum": 248.7, "type": "quantitative", "title": null},
                "y2": {"datum": 227.6}
              }
            },
            {
              "data": {"name": "ohlc"},
              "mark": {"type": "rule", "strokeWidth": 1},
              "encoding": {
                "x": {"field": "i", "type": "quantitative", "title": null},
                "y": {"field": "l", "type": "quantitative", "title": null},
                "y2": {"field": "h"},
                "color": {"condition": {"test": "datum.c >= datum.o", "value": "#3aae96"}, "value": "#ef4758"}
              }
            },
            {
              "data": {"name": "ohlc"},
              "mark": {"type": "bar", "width": 2},
              "encoding": {
                "x": {"field": "i", "type": "quantitative", "title": null},
                "y": {"field": "o", "type": "quantitative", "title": null},
                "y2": {"field": "c"},
                "color": {"condition": {"test": "datum.c >= datum.o", "value": "#3aae96"}, "value": "#ef4758"}
              }
            },
            {
              "mark": {"type": "rule", "color": "#e0528a", "strokeWidth": 1},
              "encoding": {"y": {"datum": 384.4, "type": "quantitative", "title": null}}
            },
            {
              "mark": {"type": "rule", "color": "#2962ff", "strokeWidth": 1.5},
              "encoding": {"y": {"datum": 376.6, "type": "quantitative", "title": null}}
            },
            {
              "mark": {"type": "rule", "color": "#131722", "strokeWidth": 2},
              "encoding": {"y": {"datum": 356.6, "type": "quantitative", "title": null}}
            },
            {
              "mark": {"type": "rule", "color": "#f9b24b", "strokeWidth": 1},
              "encoding": {"y": {"datum": 307.1, "type": "quantitative", "title": null}}
            },
            {
              "mark": {"type": "rule", "color": "#f23645", "strokeWidth": 1, "strokeDash": [1, 3]},
              "encoding": {"y": {"datum": 287, "type": "quantitative", "title": null}}
            },
            {
              "mark": {"type": "rule", "color": "#f23645", "strokeWidth": 2},
              "encoding": {"y": {"datum": 259, "type": "quantitative", "title": null}}
            },
            {
              "mark": {"type": "rule", "color": "#ef5a6a", "strokeWidth": 1},
              "encoding": {"y": {"datum": 248.7, "type": "quantitative", "title": null}}
            },
            {
              "mark": {"type": "rule", "color": "#ef5a6a", "strokeWidth": 1},
              "encoding": {"y": {"datum": 227.6, "type": "quantitative", "title": null}}
            },
            {
              "data": {"name": "earn"},
              "mark": {"type": "point", "shape": "square", "size": 120, "filled": true, "fill": "white", "stroke": "#50535e", "strokeWidth": 1, "opacity": 1},
              "encoding": {
                "x": {"field": "i", "type": "quantitative", "title": null},
                "y": {"datum": 150.3, "type": "quantitative", "title": null}
              }
            },
            {
              "data": {"name": "earn"},
              "mark": {"type": "text", "text": "E", "fontSize": 8.5, "fontWeight": 600, "color": "#131722", "baseline": "middle", "align": "center"},
              "encoding": {
                "x": {"field": "i", "type": "quantitative", "title": null},
                "y": {"datum": 150.3, "type": "quantitative", "title": null}
              }
            },
            {
              "data": {"name": "tags"},
              "mark": {"type": "rect", "height": 12, "cornerRadius": 2},
              "encoding": {
                "x": {"datum": 312.5, "type": "quantitative", "title": null},
                "x2": {"datum": 322.3},
                "y": {"field": "p", "type": "quantitative", "title": null},
                "color": {"condition": {"test": "datum.t == '307'", "value": "#f7a21b"}, "value": "#f23645"}
              }
            },
            {
              "data": {"name": "tags"},
              "mark": {"type": "text", "align": "left", "baseline": "middle", "fontSize": 10},
              "encoding": {
                "x": {"datum": 314, "type": "quantitative", "title": null},
                "y": {"field": "p", "type": "quantitative", "title": null},
                "text": {"field": "t"},
                "color": {"condition": {"test": "datum.t == '307'", "value": "#131722"}, "value": "white"}
              }
            },
            {
              "mark": {"type": "rect", "height": 11, "cornerRadius": 2, "color": "#f23645"},
              "encoding": {
                "x": {"datum": 304.3, "type": "quantitative", "title": null},
                "x2": {"datum": 311.6},
                "y": {"datum": 287, "type": "quantitative", "title": null}
              }
            },
            {
              "mark": {"type": "text", "text": "SCW", "align": "center", "baseline": "middle", "color": "white", "fontSize": 9.5},
              "encoding": {
                "x": {"datum": 308, "type": "quantitative", "title": null},
                "y": {"datum": 287, "type": "quantitative", "title": null}
              }
            },
            {
              "mark": {"type": "rect", "height": 22, "cornerRadius": 2, "color": "#f23645"},
              "encoding": {
                "x": {"datum": 312.5, "type": "quantitative", "title": null},
                "x2": {"datum": 329.6},
                "y": {"datum": 283.3, "type": "quantitative", "title": null}
              }
            },
            {
              "mark": {"type": "text", "text": "287", "align": "left", "baseline": "middle", "color": "white", "fontSize": 9.5, "dy": -1.5},
              "encoding": {
                "x": {"datum": 314, "type": "quantitative", "title": null},
                "y": {"datum": 287, "type": "quantitative", "title": null}
              }
            },
            {
              "mark": {"type": "text", "text": "08:05:24", "align": "left", "baseline": "middle", "color": "white", "fontSize": 9.5, "dy": 9.5},
              "encoding": {
                "x": {"datum": 314, "type": "quantitative", "title": null},
                "y": {"datum": 287, "type": "quantitative", "title": null}
              }
            },
            {
              "mark": {"type": "rect", "height": 12, "cornerRadius": 2, "color": "#e8edf5"},
              "encoding": {
                "x": {"datum": 297.2, "type": "quantitative", "title": null},
                "x2": {"datum": 311.8},
                "y": {"datum": 474.6, "type": "quantitative", "title": null}
              }
            },
            {
              "mark": {"type": "text", "text": "Maksimum", "align": "center", "baseline": "middle", "color": "#131722", "fontSize": 9.5},
              "encoding": {
                "x": {"datum": 304.5, "type": "quantitative", "title": null},
                "y": {"datum": 474.6, "type": "quantitative", "title": null}
              }
            },
            {
              "mark": {"type": "rect", "height": 12, "cornerRadius": 2, "color": "#e8edf5"},
              "encoding": {
                "x": {"datum": 298.2, "type": "quantitative", "title": null},
                "x2": {"datum": 311.8},
                "y": {"datum": 151, "type": "quantitative", "title": null}
              }
            },
            {
              "mark": {"type": "text", "text": "Minimum", "align": "center", "baseline": "middle", "color": "#131722", "fontSize": 9.5},
              "encoding": {
                "x": {"datum": 305, "type": "quantitative", "title": null},
                "y": {"datum": 151, "type": "quantitative", "title": null}
              }
            },
            {
              "mark": {"type": "rect", "height": 12, "cornerRadius": 2, "color": "#e8edf5"},
              "encoding": {
                "x": {"datum": 312.6, "type": "quantitative", "title": null},
                "x2": {"datum": 325.3},
                "y": {"datum": 151, "type": "quantitative", "title": null}
              }
            },
            {
              "mark": {"type": "text", "text": "151,5", "align": "center", "baseline": "middle", "color": "#131722", "fontSize": 10},
              "encoding": {
                "x": {"datum": 319, "type": "quantitative", "title": null},
                "y": {"datum": 151, "type": "quantitative", "title": null}
              }
            },
            {
              "mark": {"type": "text", "text": "PLN", "align": "left", "baseline": "middle", "color": "#131722", "fontSize": 10},
              "encoding": {
                "x": {"datum": 315.2, "type": "quantitative", "title": null},
                "y": {"datum": 466, "type": "quantitative", "title": null}
              }
            },
            {
              "mark": {"type": "text", "text": "Scanway Spolka Akcyjna · 1D · GPW", "align": "left", "baseline": "middle", "color": "#131722", "fontSize": 10, "fontWeight": 600},
              "encoding": {
                "x": {"datum": 0, "type": "quantitative", "title": null},
                "y": {"datum": 469.7, "type": "quantitative", "title": null}
              }
            }
          ]
        }
      ]
    },
    {
      "width": 880,
      "height": 38,
      "data": {"values": [{}]},
      "layer": [
        {
          "data": {"name": "ohlc"},
          "mark": {"type": "bar", "width": 2, "opacity": 0.45},
          "encoding": {
            "x": {"field": "i", "type": "quantitative", "scale": {"domain": [-1.786, 312.5], "nice": false, "zero": false},
              "axis": {"grid": true, "labels": false, "values": [0, 23.2, 40.7, 60.4, 80.7, 100.7, 122.5, 142.5, 162.1, 183.6, 206.4, 227.5, 249.6, 272.1, 291.8, 310.4], "title": null}},
            "y": {"field": "v", "type": "quantitative", "scale": {"domain": [0, 50000], "nice": false},
              "axis": {"orient": "right", "values": [40000], "labelExpr": "format(datum.value / 1000, 'd') + ' K'", "grid": true, "labelPadding": 7, "title": null}},
            "color": {"condition": {"test": "datum.c >= datum.o", "value": "#26a69a"}, "value": "#f23645"}
          }
        },
        {
          "mark": {"type": "rule", "color": "#e0e3eb", "strokeWidth": 1},
          "encoding": {"y": {"datum": 50000, "type": "quantitative", "title": null}}
        }
      ]
    },
    {
      "width": 880,
      "height": 50,
      "data": {"values": [{}]},
      "layer": [
        {
          "data": {"name": "ohlc"},
          "transform": [{"window": [{"op": "lag", "field": "m", "as": "pm"}], "sort": [{"field": "i"}]}],
          "mark": {"type": "bar", "width": 2},
          "encoding": {
            "x": {"field": "i", "type": "quantitative", "scale": {"domain": [-1.786, 312.5], "nice": false, "zero": false},
              "axis": {"grid": true, "labels": false, "values": [0, 23.2, 40.7, 60.4, 80.7, 100.7, 122.5, 142.5, 162.1, 183.6, 206.4, 227.5, 249.6, 272.1, 291.8, 310.4], "title": null}},
            "y": {"field": "m", "type": "quantitative", "scale": {"domain": [-16.8, 23.2], "nice": false},
              "axis": {"orient": "right", "values": [20, 0], "labelExpr": "datum.value == 0 ? '0,0000' : replace(format(datum.value, '.2f'), '.', ',')", "grid": true, "labelPadding": 7, "title": null}},
            "color": {"condition": [
              {"test": "datum.m >= 0 && datum.m >= datum.pm", "value": "#26a69a"},
              {"test": "datum.m >= 0", "value": "#b2dfdb"},
              {"test": "datum.m < datum.pm", "value": "#ff5252"}
            ], "value": "#ffcdd2"}
          }
        },
        {
          "mark": {"type": "rule", "color": "#9598a1", "strokeDash": [3, 3], "strokeWidth": 1},
          "encoding": {"y": {"datum": 15, "type": "quantitative", "title": null}}
        },
        {
          "mark": {"type": "rule", "color": "#9598a1", "strokeDash": [3, 3], "strokeWidth": 1},
          "encoding": {"y": {"datum": -15.5, "type": "quantitative", "title": null}}
        },
        {
          "data": {"name": "macd"},
          "transform": [{"filter": "datum.s == 'macd'"}],
          "mark": {"type": "line", "color": "#3b8fef", "strokeWidth": 1, "interpolate": "monotone"},
          "encoding": {
            "x": {"field": "i", "type": "quantitative", "title": null},
            "y": {"field": "v", "type": "quantitative", "title": null}
          }
        },
        {
          "data": {"name": "macd"},
          "transform": [{"filter": "datum.s == 'sig'"}],
          "mark": {"type": "line", "color": "#f57c2a", "strokeWidth": 1, "interpolate": "monotone"},
          "encoding": {
            "x": {"field": "i", "type": "quantitative", "title": null},
            "y": {"field": "v", "type": "quantitative", "title": null}
          }
        },
        {
          "mark": {"type": "rule", "color": "#e0e3eb", "strokeWidth": 1},
          "encoding": {"y": {"datum": 23.2, "type": "quantitative", "title": null}}
        }
      ]
    },
    {
      "width": 880,
      "height": 50,
      "data": {"values": [{}]},
      "layer": [
        {
          "mark": {"type": "rect", "color": "#7e57c2", "opacity": 0.1},
          "encoding": {
            "x": {"datum": -1.786, "type": "quantitative", "scale": {"domain": [-1.786, 312.5], "nice": false, "zero": false},
              "axis": {"grid": true, "labels": false, "values": [0, 23.2, 40.7, 60.4, 80.7, 100.7, 122.5, 142.5, 162.1, 183.6, 206.4, 227.5, 249.6, 272.1, 291.8, 310.4], "title": null}},
            "x2": {"datum": 312.5},
            "y": {"datum": 80, "type": "quantitative", "scale": {"domain": [9.7, 95.4], "nice": false},
              "axis": {"orient": "right", "values": [80, 40], "labelExpr": "replace(format(datum.value, '.2f'), '.', ',')", "grid": false, "labelPadding": 7, "title": null}},
            "y2": {"datum": 20}
          }
        },
        {
          "mark": {"type": "rule", "color": "#9598a1", "strokeDash": [3, 3], "strokeWidth": 1},
          "encoding": {"y": {"datum": 80, "type": "quantitative", "title": null}}
        },
        {
          "mark": {"type": "rule", "color": "#9598a1", "strokeDash": [3, 3], "strokeWidth": 1, "opacity": 0.7},
          "encoding": {"y": {"datum": 50, "type": "quantitative", "title": null}}
        },
        {
          "mark": {"type": "rule", "color": "#9598a1", "strokeDash": [3, 3], "strokeWidth": 1},
          "encoding": {"y": {"datum": 20, "type": "quantitative", "title": null}}
        },
        {
          "data": {"name": "rsi"},
          "transform": [{"filter": "datum.s == 'ma'"}],
          "mark": {"type": "line", "color": "#f6dc8c", "strokeWidth": 2, "interpolate": "monotone"},
          "encoding": {
            "x": {"field": "i", "type": "quantitative", "title": null},
            "y": {"field": "v", "type": "quantitative", "title": null}
          }
        },
        {
          "data": {"name": "rsi"},
          "transform": [{"filter": "datum.s == 'rsi'"}],
          "mark": {"type": "line", "color": "#7e57c2", "strokeWidth": 1},
          "encoding": {
            "x": {"field": "i", "type": "quantitative", "title": null},
            "y": {"field": "v", "type": "quantitative", "title": null}
          }
        },
        {
          "mark": {"type": "rule", "color": "#e0e3eb", "strokeWidth": 1},
          "encoding": {"y": {"datum": 95.4, "type": "quantitative", "title": null}}
        }
      ]
    },
    {
      "width": 880,
      "height": 44,
      "data": {"values": [{}]},
      "layer": [
        {
          "data": {"name": "obv"},
          "mark": {"type": "line", "color": "#4caf50", "strokeWidth": 1},
          "encoding": {
            "x": {"field": "i", "type": "quantitative", "scale": {"domain": [-1.786, 312.5], "nice": false, "zero": false},
              "axis": {"grid": true, "values": [0, 23.2, 40.7, 60.4, 80.7, 100.7, 122.5, 142.5, 162.1, 183.6, 206.4, 227.5, 249.6, 272.1, 291.8, 310.4],
                "labelExpr": "['Paź','Lis','Gru','2026','Lut','Mar','Kwi','Maj','Cze','Lip','Sie','Wrz','Paź','Lis','Gru','2027'][indexof([0, 23.2, 40.7, 60.4, 80.7, 100.7, 122.5, 142.5, 162.1, 183.6, 206.4, 227.5, 249.6, 272.1, 291.8, 310.4], datum.value)]",
                "labelFontWeight": {"condition": {"test": "datum.value == 60.4 || datum.value == 310.4", "value": "bold"}, "value": "normal"},
                "labelAlign": {"condition": {"test": "datum.value == 0", "value": "left"}, "value": "center"},
                "labelPadding": 5, "title": null}},
            "y": {"field": "v", "type": "quantitative", "scale": {"domain": [40000, 392000], "nice": false, "zero": false},
              "axis": {"orient": "right", "values": [200000], "labelExpr": "format(datum.value / 1000, 'd') + ' K'", "grid": true, "labelPadding": 7, "title": null}}
          }
        },
        {
          "mark": {"type": "rule", "color": "#e0e3eb", "strokeWidth": 1},
          "encoding": {"y": {"datum": 392000, "type": "quantitative", "title": null}}
        }
      ]
    }
  ]
}
